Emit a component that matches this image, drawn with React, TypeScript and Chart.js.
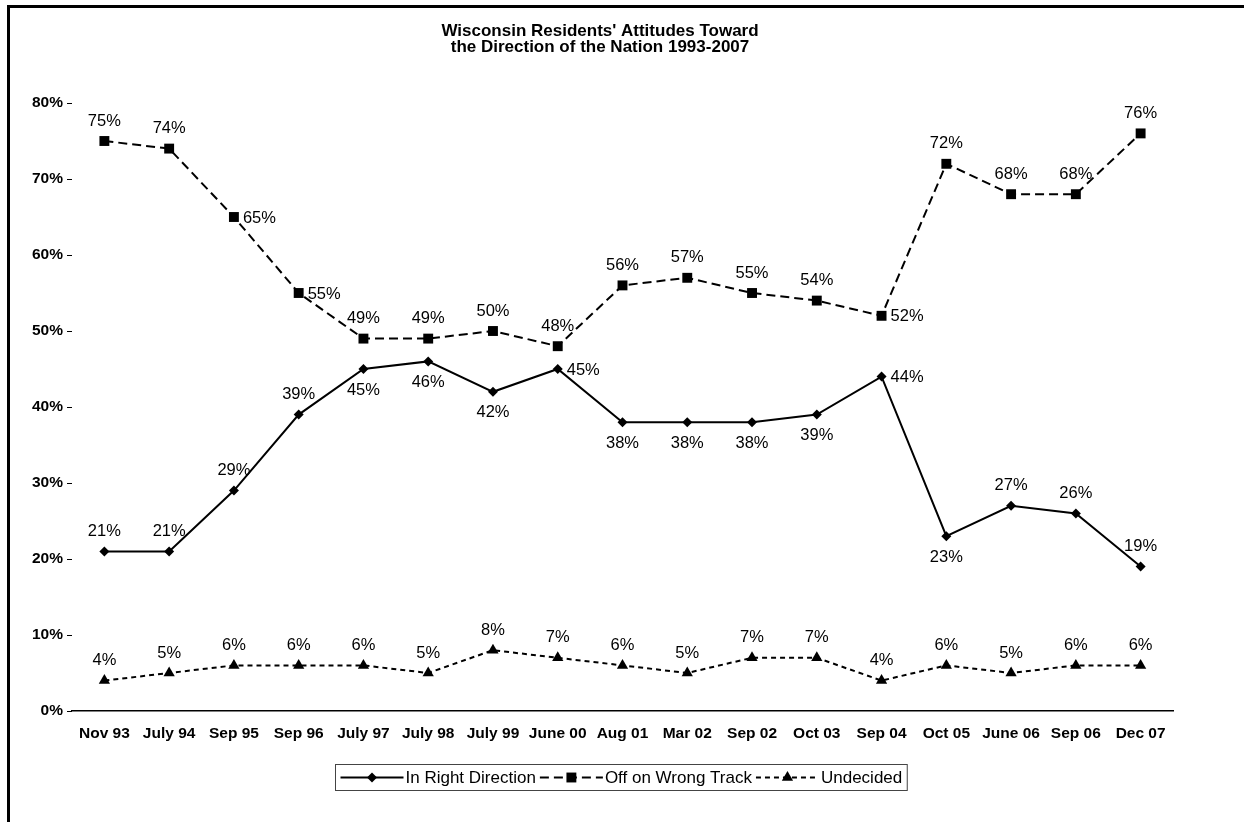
import React, { useEffect, useRef } from "react";
import { Chart, registerables } from "chart.js";

Chart.register(...registerables);

const categories = [
  "Nov 93", "July 94", "Sep 95", "Sep 96", "July 97", "July 98", "July 99", "June 00",
  "Aug 01", "Mar 02", "Sep 02", "Oct 03", "Sep 04", "Oct 05", "June 06", "Sep 06", "Dec 07",
];
const rightDirection = [21, 21, 29, 39, 45, 46, 42, 45, 38, 38, 38, 39, 44, 23, 27, 26, 19];
const wrongTrack = [75, 74, 65, 55, 49, 49, 50, 48, 56, 57, 55, 54, 52, 72, 68, 68, 76];
const undecided = [4, 5, 6, 6, 6, 5, 8, 7, 6, 5, 7, 7, 4, 6, 5, 6, 6];
const seriesNames = ["In Right Direction", "Off on Wrong Track", "Undecided"];
const titleLines = ["Wisconsin Residents' Attitudes Toward", "the Direction of the Nation 1993-2007"];

// label placement: a = above, b = below, r = right
const rightPlace = ["a","a","a","a","b","b","b","r","b","b","b","b","r","b","a","a","a"];
const wrongPlace = ["a","a","r","r","a","a","a","a","a","a","a","a","r","a","a","a","a"];
const undecidedPlace = ["a","a","a","a","a","a","a","a","a","a","a","a","a","a","a","a","a"];

const FONT = '"Liberation Sans", Arial, Helvetica, sans-serif';

const pointLabels = {
  id: "pointLabels",
  afterDatasetsDraw(chart: any) {
    const ctx = chart.ctx;
    const places = [rightPlace, wrongPlace, undecidedPlace];
    ctx.save();
    ctx.font = `16.5px ${FONT}`;
    ctx.fillStyle = "#000";
    chart.data.datasets.forEach((ds: any, i: number) => {
      const meta = chart.getDatasetMeta(i);
      meta.data.forEach((pt: any, j: number) => {
        const text = ds.data[j] + "%";
        const p = places[i][j];
        ctx.textBaseline = "middle";
        if (p === "a") {
          ctx.textAlign = "center";
          ctx.fillText(text, pt.x, pt.y - 20);
        } else if (p === "b") {
          ctx.textAlign = "center";
          ctx.fillText(text, pt.x, pt.y + 21);
        } else {
          ctx.textAlign = "left";
          ctx.fillText(text, pt.x + 9, pt.y + 1);
        }
      });
    });
    ctx.restore();
  },
};

const customLegend = {
  id: "customLegend",
  afterDraw(chart: any) {
    const ctx = chart.ctx;
    const area = chart.chartArea;
    ctx.save();
    ctx.font = `17px ${FONT}`;
    const sample = 63;
    const gap = 4;
    const pad = 5;
    const widths = chart.data.datasets.map((ds: any) => ctx.measureText(ds.label).width);
    let total = pad * 2;
    widths.forEach((w: number, i: number) => {
      total += sample + 2 + w + (i < widths.length - 1 ? gap : 0);
    });
    const cx = (area.left + area.right) / 2 - 2;
    const top = 764;
    const h = 26;
    const left = Math.round(cx - total / 2) + 0.5;
    ctx.fillStyle = "#fff";
    ctx.fillRect(left, top + 0.5, total, h);
    ctx.strokeStyle = "#444";
    ctx.lineWidth = 1;
    ctx.strokeRect(left, top + 0.5, total, h);
    let x = left + pad;
    const y = top + h / 2 + 0.5;
    chart.data.datasets.forEach((ds: any, i: number) => {
      ctx.save();
      ctx.strokeStyle = "#000";
      ctx.lineWidth = 2;
      ctx.setLineDash(ds.borderDash || []);
      ctx.beginPath();
      ctx.moveTo(x, y);
      ctx.lineTo(x + sample, y);
      ctx.stroke();
      ctx.restore();
      ctx.save();
      ctx.fillStyle = "#000";
      const r = ds.pointRadius;
      const px = x + sample / 2;
      ctx.beginPath();
      if (ds.pointStyle === "rectRot") {
        ctx.moveTo(px, y - r);
        ctx.lineTo(px + r, y);
        ctx.lineTo(px, y + r);
        ctx.lineTo(px - r, y);
      } else if (ds.pointStyle === "rect") {
        const s = r * Math.SQRT1_2;
        ctx.rect(px - s, y - s, 2 * s, 2 * s);
      } else {
        ctx.moveTo(px, y - r);
        ctx.lineTo(px + (r * Math.sqrt(3)) / 2, y + r / 2);
        ctx.lineTo(px - (r * Math.sqrt(3)) / 2, y + r / 2);
      }
      ctx.closePath();
      ctx.fill();
      ctx.restore();
      x += sample + 2;
      ctx.fillStyle = "#000";
      ctx.textAlign = "left";
      ctx.textBaseline = "middle";
      ctx.fillText(ds.label, x, y + 1);
      x += widths[i] + gap;
    });
    ctx.restore();
  },
};

export default function App() {
  const ref = useRef<HTMLCanvasElement>(null);

  useEffect(() => {
    if (!ref.current) return;
    const chart = new Chart(ref.current, {
      type: "line",
      data: {
        labels: categories,
        datasets: [
          {
            label: seriesNames[0],
            data: rightDirection,
            borderColor: "#000",
            backgroundColor: "#000",
            borderWidth: 2,
            pointStyle: "rectRot",
            pointRadius: 5,
            pointBorderWidth: 0,
            pointBackgroundColor: "#000",
            tension: 0,
          },
          {
            label: seriesNames[1],
            data: wrongTrack,
            borderColor: "#000",
            backgroundColor: "#000",
            borderWidth: 2,
            borderDash: [9, 5],
            pointStyle: "rect",
            pointRadius: 7,
            pointBorderWidth: 0,
            pointBackgroundColor: "#000",
            tension: 0,
          },
          {
            label: seriesNames[2],
            data: undecided,
            borderColor: "#000",
            backgroundColor: "#000",
            borderWidth: 2,
            borderDash: [5, 4],
            pointStyle: "triangle",
            pointRadius: 6.5,
            pointBorderWidth: 0,
            pointBackgroundColor: "#000",
            tension: 0,
          },
        ],
      },
      options: {
        animation: false,
        responsive: false,
        devicePixelRatio: 1,
        layout: { padding: { left: 27, right: 27, top: 0, bottom: 71 } },
        plugins: {
          legend: { display: false },
          tooltip: { enabled: false },
          title: {
            display: true,
            text: titleLines,
            color: "#000",
            font: { family: FONT, size: 17, weight: "bold", lineHeight: 0.95 },
            padding: { top: 23, bottom: 47.7 },
          },
        },
        scales: {
          x: {
            offset: true,
            grid: { display: true, drawOnChartArea: false, drawTicks: false },
            border: { display: true, color: "#000", width: 1.5 },
            ticks: {
              color: "#000",
              font: { family: FONT, size: 15.5, weight: "bold" },
              padding: 13,
              maxRotation: 0,
              autoSkip: false,
            },
            afterFit: (s: any) => {
              s.height = 40;
            },
          },
          y: {
            min: 0,
            max: 80,
            grid: { display: true, drawOnChartArea: false, drawTicks: true, tickLength: 5, color: "#000" },
            border: { display: false },
            ticks: {
              stepSize: 10,
              color: "#000",
              font: { family: FONT, size: 15.5, weight: "bold" },
              padding: 4,
              callback: (v: any) => v + "%",
            },
            afterFit: (s: any) => {
              s.width = 45;
            },
          },
        },
      },
      plugins: [pointLabels, customLegend],
    } as any);
    return () => chart.destroy();
  }, []);

  return (
    <div
      style={{
        position: "absolute",
        left: 0,
        top: 0,
        width: 1244,
        height: 822,
        background: "#fff",
        overflow: "hidden",
      }}
    >
      <div
        style={{
          position: "absolute",
          left: 7,
          top: 5,
          width: 1400,
          height: 1000,
          border: "3px solid #000",
          boxSizing: "border-box",
        }}
      />
      <canvas
        ref={ref}
        width={1200}
        height={822}
        style={{ position: "absolute", left: 0, top: 0, width: 1200, height: 822 }}
      />
    </div>
  );
}
